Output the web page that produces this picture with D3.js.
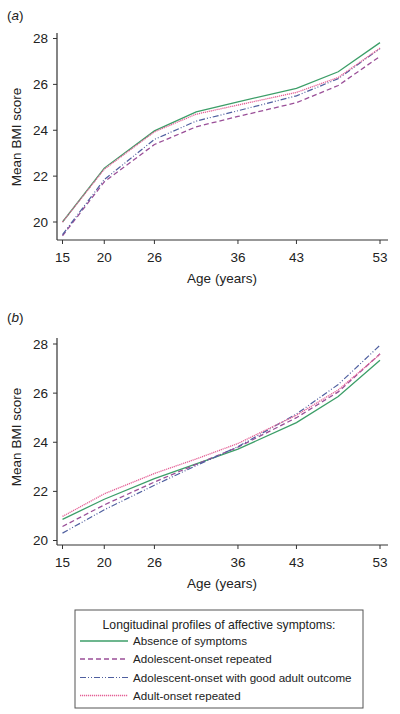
<!DOCTYPE html>
<html><head><meta charset="utf-8">
<script src="https://cdn.jsdelivr.net/npm/d3@7"></script>
<style>body{margin:0;background:#fff}svg{display:block}text{font-family:"Liberation Sans",Arial,Helvetica,sans-serif;fill:#222}</style>
</head><body>
<script>
const ages = [15, 20, 26, 31, 36, 43, 48, 53];
const xTicks = [15, 20, 26, 36, 43, 53];
const yTicks = [20, 22, 24, 26, 28];
const seriesNames = ["Absence of symptoms", "Adolescent-onset repeated", "Adolescent-onset with good adult outcome", "Adult-onset repeated"];
const panelA_absence = [20.0, 22.35, 23.97, 24.8, 25.24, 25.83, 26.55, 27.82];
const panelA_adolRep = [19.4, 21.75, 23.38, 24.15, 24.6, 25.2, 25.95, 27.22];
const panelA_adolGood = [19.45, 21.85, 23.6, 24.4, 24.85, 25.5, 26.25, 27.56];
const panelA_adultRep = [20.0, 22.3, 23.93, 24.7, 25.1, 25.65, 26.3, 27.58];
const panelB_absence = [20.86, 21.68, 22.52, 23.12, 23.72, 24.8, 25.86, 27.34];
const panelB_adolRep = [20.57, 21.45, 22.38, 23.1, 23.8, 25.0, 26.05, 27.6];
const panelB_adolGood = [20.3, 21.25, 22.25, 23.05, 23.82, 25.15, 26.35, 27.95];
const panelB_adultRep = [20.98, 21.9, 22.73, 23.32, 23.95, 25.1, 26.13, 27.58];

const styles = [
  {color:"#3c9e68", dash:null, w:1.3},
  {color:"#9a4f98", dash:"5,3", w:1.3},
  {color:"#4f5f9f", dash:"6,2,1,2,1,2", w:1.2},
  {color:"#e45f95", dash:"1.2,0.8", w:1.3}
];

const svg = d3.select("body").append("svg").attr("width",400).attr("height",714);

function panel(label, data, o){
  const g = svg.append("g");
  const x = d3.scaleLinear().domain([15,53]).range([62.5,380]);
  const y = d3.scaleLinear().domain([20,28]).range([o.y20,o.y28]);
  const axX = o.axisX, axY = o.axisY;
  g.append("line").attr("x1",axX).attr("x2",axX).attr("y1",o.top).attr("y2",axY).attr("stroke","#333").attr("stroke-width",1.2);
  g.append("line").attr("x1",axX).attr("x2",388).attr("y1",axY).attr("y2",axY).attr("stroke","#333").attr("stroke-width",1.2);
  yTicks.forEach(t=>{
    g.append("line").attr("x1",axX-4).attr("x2",axX).attr("y1",y(t)).attr("y2",y(t)).attr("stroke","#333");
    g.append("text").attr("x",axX-9).attr("y",y(t)).attr("dy","0.35em").attr("text-anchor","end").attr("font-size",13.5).text(t);
  });
  xTicks.forEach(t=>{
    g.append("line").attr("x1",x(t)).attr("x2",x(t)).attr("y1",axY).attr("y2",axY+4).attr("stroke","#333");
    g.append("text").attr("x",x(t)).attr("y",axY+17).attr("dy","0.35em").attr("text-anchor","middle").attr("font-size",13.5).text(t);
  });
  g.append("text").attr("x",222).attr("y",axY+38).attr("dy","0.35em").attr("text-anchor","middle").attr("font-size",13.5).text("Age (years)");
  g.append("text").attr("transform",`translate(16,${o.ymid}) rotate(-90)`).attr("dy","0.35em").attr("text-anchor","middle").attr("font-size",13.5).text("Mean BMI score");
  const lab = g.append("text").attr("x",7).attr("y",o.labelY).attr("dy","0.35em").attr("font-size",13.5);
  lab.append("tspan").text("(");
  lab.append("tspan").attr("font-style","italic").text(label);
  lab.append("tspan").text(")");
  const line = d3.line().x((d,i)=>x(ages[i])).y(d=>y(d));
  data.forEach((s,i)=>{
    g.append("path").datum(s).attr("d",line).attr("fill","none").attr("stroke",styles[i].color)
      .attr("stroke-width",styles[i].w).attr("stroke-dasharray",styles[i].dash);
  });
}

panel("a",[panelA_absence,panelA_adolRep,panelA_adolGood,panelA_adultRep],
  {y20:222,y28:38.5,top:33,axisX:57,axisY:240,ymid:137,labelY:15});
panel("b",[panelB_absence,panelB_adolRep,panelB_adolGood,panelB_adultRep],
  {y20:540.5,y28:344,top:338,axisX:57,axisY:545,ymid:437,labelY:317});

const lg = svg.append("g");
lg.append("rect").attr("x",75).attr("y",610).attr("width",288).attr("height",98).attr("fill","#fff").attr("stroke","#555").attr("stroke-width",1);
lg.append("text").attr("x",219).attr("y",625).attr("dy","0.35em").attr("text-anchor","middle").attr("font-size",12.2).text("Longitudinal profiles of affective symptoms:");
const ly = [641, 659, 677.5, 695.5];
seriesNames.forEach((n,i)=>{
  lg.append("line").attr("x1",80).attr("x2",128).attr("y1",ly[i]).attr("y2",ly[i]).attr("stroke",styles[i].color)
    .attr("stroke-width",styles[i].w).attr("stroke-dasharray",styles[i].dash);
  lg.append("text").attr("x",133).attr("y",ly[i]).attr("dy","0.35em").attr("font-size",11.6).text(n);
});
</script>
</body></html>
